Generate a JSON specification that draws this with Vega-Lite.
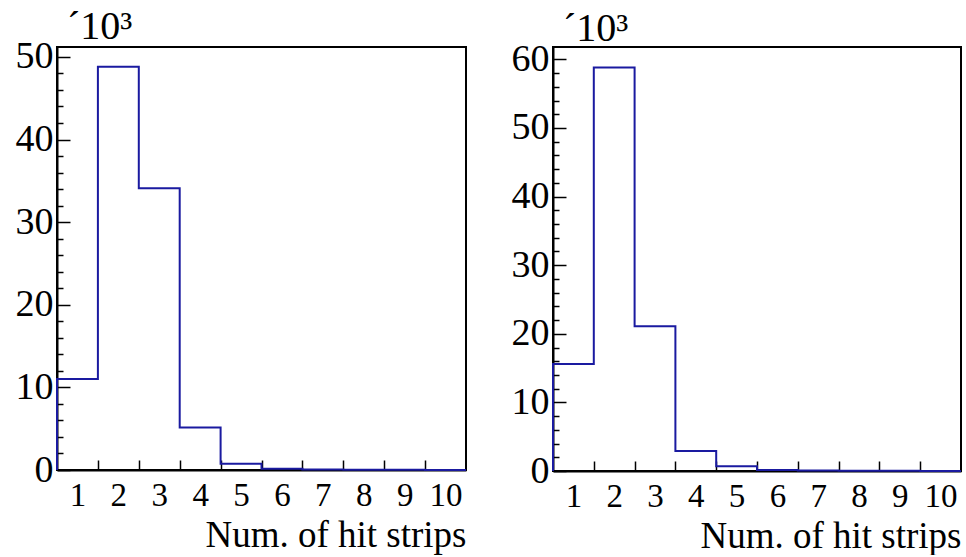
{
  "$schema": "https://vega.github.io/schema/vega-lite/v6.json",
  "background": "white",
  "padding": {"left": 14, "top": 5, "right": 0, "bottom": 0},
  "spacing": 39,
  "config": {
    "font": "Liberation Serif",
    "view": {"stroke": "black", "strokeWidth": 2},
    "axis": {
      "grid": false,
      "domainColor": "black",
      "domainWidth": 2,
      "tickColor": "black",
      "tickWidth": 1.5,
      "labelFont": "Liberation Serif",
      "labelColor": "black",
      "labelOverlap": false,
      "labelFlush": false,
      "titleFont": "Liberation Serif",
      "titleFontSize": 37,
      "titleFontWeight": "normal",
      "titleColor": "black"
    },
    "axisX": {"labelFontSize": 33},
    "axisY": {"labelFontSize": 38},
    "title": {"font": "Liberation Serif", "fontSize": 40, "fontWeight": "normal", "color": "black"}
  },
  "datasets": {
    "left": [
      {"edge": 0.5, "count": 0},
      {"edge": 0.5, "count": 11.0},
      {"edge": 1.5, "count": 48.8},
      {"edge": 2.5, "count": 34.1},
      {"edge": 3.5, "count": 5.15},
      {"edge": 4.5, "count": 0.75},
      {"edge": 5.5, "count": 0.15},
      {"edge": 6.5, "count": 0.06},
      {"edge": 7.5, "count": 0.03},
      {"edge": 8.5, "count": 0.02},
      {"edge": 9.5, "count": 0.01},
      {"edge": 10.5, "count": 0.01}
    ],
    "right": [
      {"edge": 0.5, "count": 0},
      {"edge": 0.5, "count": 15.6},
      {"edge": 1.5, "count": 58.8},
      {"edge": 2.5, "count": 21.1},
      {"edge": 3.5, "count": 2.9},
      {"edge": 4.5, "count": 0.7},
      {"edge": 5.5, "count": 0.15},
      {"edge": 6.5, "count": 0.06},
      {"edge": 7.5, "count": 0.03},
      {"edge": 8.5, "count": 0.02},
      {"edge": 9.5, "count": 0.01},
      {"edge": 10.5, "count": 0.01}
    ]
  },
  "hconcat": [
    {
      "data": {"name": "left"},
      "width": 409,
      "height": 423,
      "title": {"text": "´10³", "anchor": "start", "frame": "group", "dx": 10, "offset": -9},
      "layer": [
        {
          "mark": {"type": "line", "interpolate": "step-after", "color": "#1a1aa0", "strokeWidth": 2},
          "encoding": {
            "x": {"field": "edge", "type": "quantitative", "scale": {"domain": [0.5, 10.5], "nice": false, "zero": false},
              "axis": {"orient": "bottom", "values": [1,2,3,4,5,6,7,8,9,10], "ticks": false, "labelPadding": 9, "title": "Num. of hit strips", "titleAnchor": "end", "titlePadding": 5}},
            "y": {"field": "count", "type": "quantitative", "scale": {"domain": [0, 51.2], "nice": false},
              "axis": {"orient": "left", "values": [0,10,20,30,40,50], "ticks": false, "labelPadding": 4, "title": null}}
          }
        },
        {
          "mark": {"type": "line", "interpolate": "step-after", "opacity": 0},
          "encoding": {
            "x": {"field": "edge", "type": "quantitative",
              "axis": {"orient": "bottom", "values": [1.5,2.5,3.5,4.5,5.5,6.5,7.5,8.5,9.5], "tickSize": -10, "labels": false, "domain": false, "title": null}},
            "y": {"field": "count", "type": "quantitative",
              "axis": {"orient": "left", "values": [0,10,20,30,40,50], "tickSize": -13, "labels": false, "domain": false, "title": null}}
          }
        },
        {
          "mark": {"type": "line", "interpolate": "step-after", "opacity": 0},
          "encoding": {
            "x": {"field": "edge", "type": "quantitative", "axis": null},
            "y": {"field": "count", "type": "quantitative",
              "axis": {"orient": "left", "values": [2,4,6,8,12,14,16,18,22,24,26,28,32,34,36,38,42,44,46,48], "tickSize": -6, "labels": false, "domain": false, "title": null}}
          }
        }
      ],
      "resolve": {"axis": {"x": "independent", "y": "independent"}}
    },
    {
      "data": {"name": "right"},
      "width": 408,
      "height": 424,
      "title": {"text": "´10³", "anchor": "start", "frame": "group", "dx": 10, "offset": -9},
      "layer": [
        {
          "mark": {"type": "line", "interpolate": "step-after", "color": "#1a1aa0", "strokeWidth": 2},
          "encoding": {
            "x": {"field": "edge", "type": "quantitative", "scale": {"domain": [0.5, 10.5], "nice": false, "zero": false},
              "axis": {"orient": "bottom", "values": [1,2,3,4,5,6,7,8,9,10], "ticks": false, "labelPadding": 9, "title": "Num. of hit strips", "titleAnchor": "end", "titlePadding": 5}},
            "y": {"field": "count", "type": "quantitative", "scale": {"domain": [0, 61.8], "nice": false},
              "axis": {"orient": "left", "values": [0,10,20,30,40,50,60], "ticks": false, "labelPadding": 4, "title": null}}
          }
        },
        {
          "mark": {"type": "line", "interpolate": "step-after", "opacity": 0},
          "encoding": {
            "x": {"field": "edge", "type": "quantitative",
              "axis": {"orient": "bottom", "values": [1.5,2.5,3.5,4.5,5.5,6.5,7.5,8.5,9.5], "tickSize": -10, "labels": false, "domain": false, "title": null}},
            "y": {"field": "count", "type": "quantitative",
              "axis": {"orient": "left", "values": [0,10,20,30,40,50,60], "tickSize": -13, "labels": false, "domain": false, "title": null}}
          }
        },
        {
          "mark": {"type": "line", "interpolate": "step-after", "opacity": 0},
          "encoding": {
            "x": {"field": "edge", "type": "quantitative", "axis": null},
            "y": {"field": "count", "type": "quantitative",
              "axis": {"orient": "left", "values": [2,4,6,8,12,14,16,18,22,24,26,28,32,34,36,38,42,44,46,48,52,54,56,58], "tickSize": -6, "labels": false, "domain": false, "title": null}}
          }
        }
      ],
      "resolve": {"axis": {"x": "independent", "y": "independent"}}
    }
  ]
}
